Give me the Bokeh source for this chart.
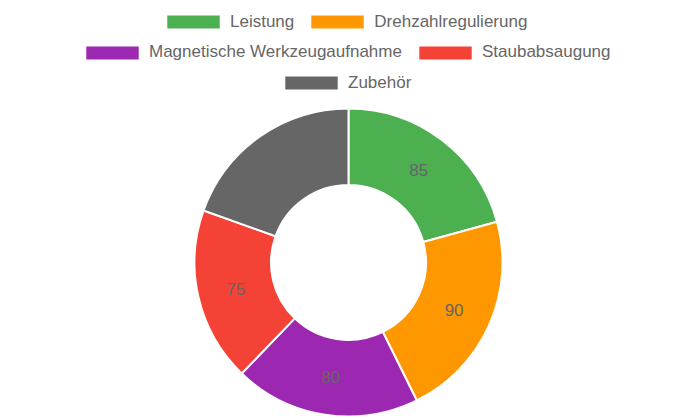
import math
from bokeh.plotting import figure
from bokeh.models import ColumnDataSource, Legend, LegendItem, Range1d
from bokeh.core.properties import value
from bokeh.embed import file_html
from bokeh.resources import INLINE

categories = ["Leistung", "Drehzahlregulierung", "Magnetische Werkzeugaufnahme", "Staubabsaugung", "Zubehör"]
values = [85, 90, 80, 75, 80]
colors = ["#4CAF50", "#FF9800", "#9C27B0", "#F44336", "#666666"]

W, H = 696, 418
CX, CY = 348, 156
R_OUT, R_IN = 154, 77.5

total = float(sum(values))
starts, ends, lx, ly = [], [], [], []
cum = 0.0
for v in values:
    a0 = math.pi / 2 - 2 * math.pi * cum / total
    cum += v
    a1 = math.pi / 2 - 2 * math.pi * cum / total
    starts.append(a0)
    ends.append(a1)
    mid = (a0 + a1) / 2
    rm = (R_OUT + R_IN) / 2
    lx.append(CX + rm * math.cos(mid))
    ly.append(CY + rm * math.sin(mid))

src = ColumnDataSource(dict(cat=categories, val=values, col=colors, start=starts, end=ends,
                            lx=lx, ly=ly, txt=[str(v) for v in values],
                            x=[CX] * len(values), y=[CY] * len(values)))

p = figure(width=W, height=H, output_backend="svg", toolbar_location=None,
           x_range=Range1d(0, W), y_range=Range1d(0, H), min_border=0)
p.axis.visible = False
p.grid.visible = False
p.outline_line_color = None
p.background_fill_color = "white"
p.border_fill_color = "white"

r = p.annular_wedge(x="x", y="y", inner_radius=R_IN, outer_radius=R_OUT,
                    start_angle="start", end_angle="end", direction="clock",
                    fill_color="col", line_color="white", line_width=2, source=src)

p.text(x="lx", y="ly", text="txt", source=src, text_align="center", text_baseline="middle",
       text_color="#666666", text_font=value("Liberation Sans"), text_font_size="17px")

rows = [[0, 1], [2, 3], [4]]
row_x = [159, 78, 277]
row_cy = [H - 22, H - 52.7, H - 83.3]
GW, GH = 68, 19
for idxs, x0, cy in zip(rows, row_x, row_cy):
    items = [LegendItem(label=categories[i], renderers=[r], index=i) for i in idxs]
    lg = Legend(items=items, orientation="horizontal", location=(x0, cy - GH / 2),
                glyph_width=GW, glyph_height=GH, label_height=GH, label_standoff=3, spacing=9,
                padding=0, margin=0, border_line_color=None, background_fill_alpha=0,
                label_text_font="Liberation Sans", label_text_font_size="17px",
                label_text_color="#666666", label_text_baseline="middle")
    p.add_layout(lg, "center")

open("out.html", "w").write(file_html(p, INLINE))
